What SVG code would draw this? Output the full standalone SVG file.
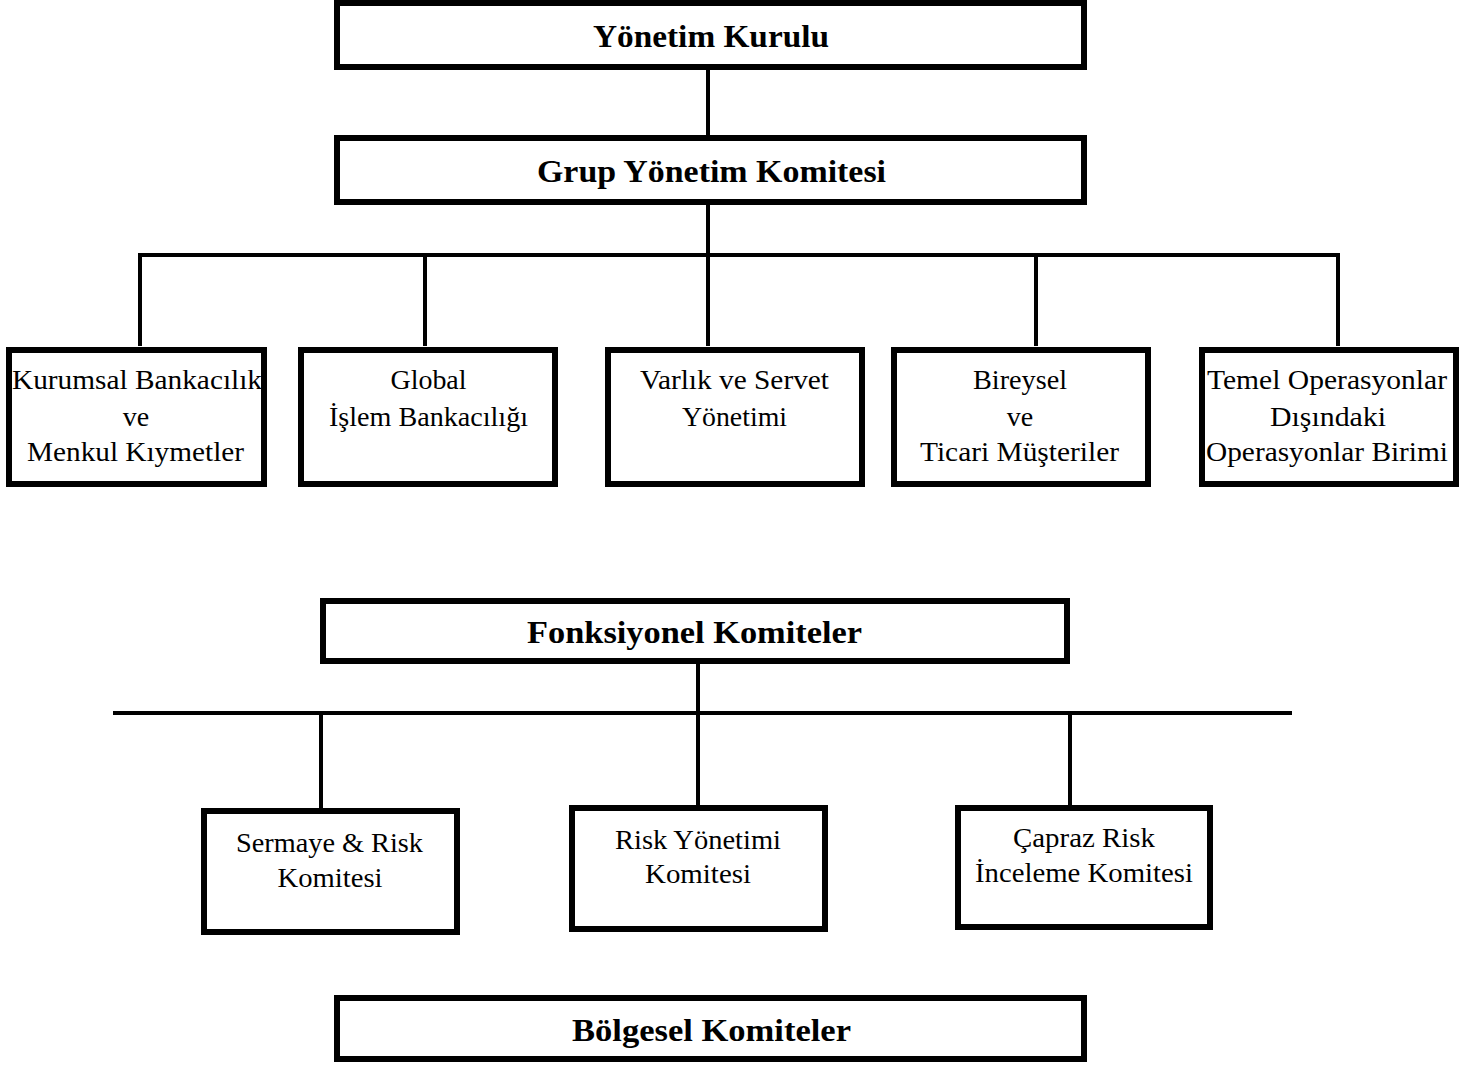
<svg xmlns="http://www.w3.org/2000/svg" width="1481" height="1065" viewBox="0 0 1481 1065">
<style>
.box{fill:#fff;stroke:#000;stroke-width:6}
.ln{stroke:#000;stroke-width:4;fill:none}
.t{font-family:"Liberation Serif","Times New Roman",serif;font-size:28px;fill:#000;text-anchor:middle}
.b{font-family:"Liberation Serif","Times New Roman",serif;font-size:32px;font-weight:bold;fill:#000;text-anchor:middle}
</style>
<rect width="1481" height="1065" fill="#fff"/>
<g id="connectors">
<line class="ln" x1="708" y1="70" x2="708" y2="136"/>
<line class="ln" x1="708" y1="204" x2="708" y2="255"/>
<line class="ln" x1="138" y1="255" x2="1340" y2="255"/>
<line class="ln" x1="140" y1="253" x2="140" y2="346"/>
<line class="ln" x1="425" y1="255" x2="425" y2="346"/>
<line class="ln" x1="708" y1="255" x2="708" y2="346"/>
<line class="ln" x1="1036" y1="255" x2="1036" y2="346"/>
<line class="ln" x1="1338" y1="253" x2="1338" y2="346"/>
<line class="ln" x1="698" y1="664" x2="698" y2="713"/>
<line class="ln" x1="113" y1="713" x2="1292" y2="713"/>
<line class="ln" x1="321" y1="713" x2="321" y2="809"/>
<line class="ln" x1="698" y1="713" x2="698" y2="806"/>
<line class="ln" x1="1070" y1="713" x2="1070" y2="806"/>
</g>
<g id="yonetim-kurulu">
<rect class="box" x="337" y="3" width="747" height="64"/>
<text class="b" x="711" y="47" textLength="236" lengthAdjust="spacingAndGlyphs">Yönetim Kurulu</text>
</g>
<g id="grup-yonetim-komitesi">
<rect class="box" x="337" y="138" width="747" height="64"/>
<text class="b" x="711.5" y="182" textLength="349" lengthAdjust="spacingAndGlyphs">Grup Yönetim Komitesi</text>
</g>
<g id="kurumsal">
<rect class="box" x="9" y="350" width="255" height="134"/>
<text class="t" x="137" y="389" textLength="250" lengthAdjust="spacingAndGlyphs">Kurumsal Bankacılık</text>
<text class="t" x="136" y="426">ve</text>
<text class="t" x="135.5" y="461" textLength="217" lengthAdjust="spacingAndGlyphs">Menkul Kıymetler</text>
</g>
<g id="global">
<rect class="box" x="301" y="350" width="254" height="134"/>
<text class="t" x="428.5" y="389" textLength="76" lengthAdjust="spacingAndGlyphs">Global</text>
<text class="t" x="428.5" y="426" textLength="199" lengthAdjust="spacingAndGlyphs">İşlem Bankacılığı</text>
</g>
<g id="varlik">
<rect class="box" x="608" y="350" width="254" height="134"/>
<text class="t" x="734.5" y="389" textLength="189" lengthAdjust="spacingAndGlyphs">Varlık ve Servet</text>
<text class="t" x="734.5" y="426" textLength="105" lengthAdjust="spacingAndGlyphs">Yönetimi</text>
</g>
<g id="bireysel">
<rect class="box" x="894" y="350" width="254" height="134"/>
<text class="t" x="1020" y="389" textLength="94" lengthAdjust="spacingAndGlyphs">Bireysel</text>
<text class="t" x="1020" y="426">ve</text>
<text class="t" x="1019.5" y="461" textLength="199" lengthAdjust="spacingAndGlyphs">Ticari Müşteriler</text>
</g>
<g id="temel">
<rect class="box" x="1202" y="350" width="254" height="134"/>
<text class="t" x="1327" y="389" textLength="240" lengthAdjust="spacingAndGlyphs">Temel Operasyonlar</text>
<text class="t" x="1328" y="426" textLength="116" lengthAdjust="spacingAndGlyphs">Dışındaki</text>
<text class="t" x="1327" y="461" textLength="242" lengthAdjust="spacingAndGlyphs">Operasyonlar Birimi</text>
</g>
<g id="fonksiyonel">
<rect class="box" x="323" y="601" width="744" height="60"/>
<text class="b" x="694.5" y="643" textLength="335" lengthAdjust="spacingAndGlyphs">Fonksiyonel Komiteler</text>
</g>
<g id="sermaye">
<rect class="box" x="204" y="811" width="253" height="121"/>
<text class="t" x="329.5" y="852" textLength="187" lengthAdjust="spacingAndGlyphs">Sermaye &amp; Risk</text>
<text class="t" x="330" y="887" textLength="105" lengthAdjust="spacingAndGlyphs">Komitesi</text>
</g>
<g id="risk-yonetimi">
<rect class="box" x="572" y="808" width="253" height="121"/>
<text class="t" x="698" y="849" textLength="166" lengthAdjust="spacingAndGlyphs">Risk Yönetimi</text>
<text class="t" x="698" y="883" textLength="106" lengthAdjust="spacingAndGlyphs">Komitesi</text>
</g>
<g id="capraz">
<rect class="box" x="958" y="808" width="252" height="119"/>
<text class="t" x="1084" y="847" textLength="142" lengthAdjust="spacingAndGlyphs">Çapraz Risk</text>
<text class="t" x="1084" y="882" textLength="218" lengthAdjust="spacingAndGlyphs">İnceleme Komitesi</text>
</g>
<g id="bolgesel">
<rect class="box" x="337" y="998" width="747" height="61"/>
<text class="b" x="711.5" y="1041" textLength="279" lengthAdjust="spacingAndGlyphs">Bölgesel Komiteler</text>
</g>
</svg>
